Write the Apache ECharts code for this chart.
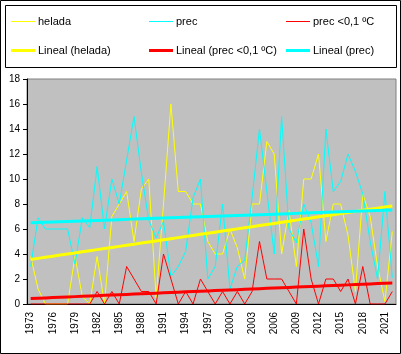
<!DOCTYPE html>
<html>
<head>
<meta charset="utf-8">
<script src="https://cdn.jsdelivr.net/npm/echarts@6/dist/echarts.min.js"></script>
<style>
  html, body { margin: 0; padding: 0; background: #fff; }
  #chart { width: 401px; height: 354px; }
</style>
</head>
<body>
<div id="chart"></div>
<script>
// años 1973 - 2022
const years = []
for (let y = 1973; y <= 2022; y++) years.push(String(y))

const helada = [
  3.8, 1.2, 0, 0, 0, 0, 3.8, 0.6, 0, 3.8,
  0, 7, 8, 9, 5, 9.2, 10, 0.5, 8, 16,
  9, 9, 8, 8, 5, 4, 4, 6, 4.5, 2,
  8, 8, 13, 12, 4, 7.5, 3, 10, 10, 12,
  5, 8, 8, 5.5, 1, 8.8, 7, 3, 0.2, 5.8
]
const prec = [
  3, 6.9, 6, 6, 6, 6, 3.2, 6.9, 6.1, 11,
  6, 10, 8, 11.5, 15, 10.5, 6.7, 5.3, 6.6, 2.2,
  3, 4.2, 8.5, 10, 2, 3, 8, 1.2, 3, 3.5,
  8.5, 14, 9, 4, 15, 6, 4.9, 8, 6.5, 3,
  14, 9, 9.8, 12, 10.6, 8.8, 5, 2, 9, 2.1
]
const precFrio = [
  0, 0, 0, 0, 0, 0, 0, 0, 0, 1,
  0, 1, 0, 3, 2, 1, 1, 0, 4, 2,
  0, 1, 0, 2, 1, 0, 1, 0, 1, 0,
  1, 5, 2, 2, 2, 1, 0, 6, 2, 0,
  2, 2, 1, 2, 0, 3, 0, 0, 0, 1
]
const yTicks = [0, 18, 2] // min, max, intervalo

// tendencia lineal (mínimos cuadrados) como en Excel
const lineal = (arr) => {
  const n = arr.length
  let sx = 0, sy = 0, sxy = 0, sxx = 0
  arr.forEach((v, i) => {
    const x = i + 1
    sx += x; sy += v; sxy += x * v; sxx += x * x
  })
  const b = (n * sxy - sx * sy) / (n * sxx - sx * sx)
  const a = (sy - b * sx) / n
  return arr.map((v, i) => a + b * (i + 1))
}

const font = '"Liberation Sans", Arial, sans-serif'
const serie = (name, data, color, width) => ({
  name,
  type: 'line',
  data,
  symbol: 'none',
  showSymbol: false,
  lineStyle: {color, width},
  itemStyle: {color},
  emphasis: {disabled: true}
})

// leyenda dibujada a mano (3 columnas x 2 filas, estilo Excel)
const legendItems = [
  {name: 'helada', color: '#FFFF00', width: 1, x: 11, y: 22},
  {name: 'prec', color: '#00FFFF', width: 1, x: 149, y: 22},
  {name: 'prec <0,1 ºC', color: '#FF0000', width: 1, x: 286, y: 22},
  {name: 'Lineal (helada)', color: '#FFFF00', width: 3, x: 11, y: 51},
  {name: 'Lineal (prec <0,1 ºC)', color: '#FF0000', width: 3, x: 149, y: 51},
  {name: 'Lineal (prec)', color: '#00FFFF', width: 3, x: 286, y: 51}
]
const legendGraphic = []
legendItems.forEach(it => {
  legendGraphic.push({
    type: 'rect',
    shape: {x: it.x, y: it.y - Math.ceil(it.width / 2), width: 24, height: it.width},
    style: {fill: it.color, stroke: 'none', lineWidth: 0},
    silent: true,
    z: 10
  })
  legendGraphic.push({
    type: 'text',
    x: it.x + 27,
    y: it.y,
    style: {text: it.name, fontFamily: font, fontSize: 11, fill: '#000', verticalAlign: 'middle'},
    silent: true
  })
})

const chart = echarts.init(document.getElementById('chart'))
chart.setOption({
  animation: false,
  backgroundColor: '#fff',
  grid: {
    left: 27,
    right: 5,
    top: 79,
    bottom: 50,
    show: true,
    backgroundColor: '#C0C0C0',
    borderColor: '#808080',
    borderWidth: 1
  },
  xAxis: {
    type: 'category',
    data: years,
    boundaryGap: true,
    axisLine: {lineStyle: {color: '#000', width: 1}},
    axisTick: {interval: 0, length: 4, lineStyle: {color: '#000'}},
    axisLabel: {
      interval: 2,
      rotate: 90,
      margin: 8,
      fontFamily: font,
      fontSize: 10,
      color: '#000'
    },
    splitLine: {show: false}
  },
  yAxis: {
    type: 'value',
    min: yTicks[0],
    max: yTicks[1],
    interval: yTicks[2],
    axisLine: {show: true, lineStyle: {color: '#000', width: 1}},
    axisTick: {show: true, length: 4, lineStyle: {color: '#000'}},
    axisLabel: {margin: 7, fontFamily: font, fontSize: 10, color: '#000'},
    splitLine: {show: false}
  },
  series: [
    serie('helada', helada, '#FFFF00', 1),
    serie('prec', prec, '#00FFFF', 1),
    serie('prec <0,1 ºC', precFrio, '#FF0000', 1),
    serie('Lineal (helada)', lineal(helada), '#FFFF00', 3),
    serie('Lineal (prec <0,1 ºC)', lineal(precFrio), '#FF0000', 3),
    serie('Lineal (prec)', lineal(prec), '#00FFFF', 3)
  ],
  graphic: [
    {type: 'rect', shape: {x: 5.5, y: 5.5, width: 391, height: 62}, style: {fill: 'none', stroke: '#000', lineWidth: 1}, silent: true},
    {type: 'rect', shape: {x: 0.5, y: 0.5, width: 400, height: 353}, style: {fill: 'none', stroke: '#000', lineWidth: 1}, silent: true}
  ].concat(legendGraphic)
})
</script>
</body>
</html>
